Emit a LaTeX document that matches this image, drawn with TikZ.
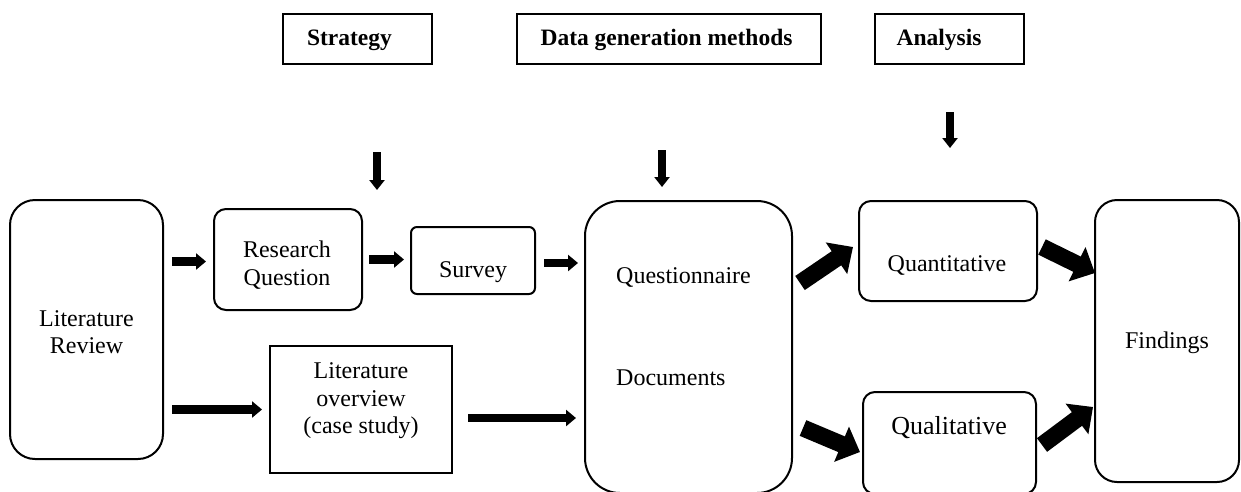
\documentclass[tikz,border=0pt]{standalone}
\usepackage{fontspec}
\setmainfont{Liberation Serif}
\usetikzlibrary{arrows.meta}
\begin{document}
\begin{tikzpicture}[x=1pt,y=-1pt,
  box/.style={draw, line width=2pt, inner sep=0pt},
  txt/.style={font=\fontsize{24}{27.5}\selectfont, align=center, inner sep=0pt},
  headbox/.style={draw, line width=1.3pt, inner sep=0pt, minimum height=50pt},
  headtxt/.style={font=\fontsize{23.5}{26}\selectfont\bfseries, inner sep=0pt},
  smallarr/.style={line width=8.5pt, -{Triangle[length=10pt,width=16pt]}},
  downarr/.style={line width=8pt, -{Triangle[length=10pt,width=15pt]}},
  bigarr/.style={line width=17pt, -{Triangle[length=20pt,width=37pt]}}]
\useasboundingbox (0,0) rectangle (1241,491);

% header boxes
\node[headbox, minimum width=149pt] (strat) at (357.5,39) {};
\node[headtxt] (strattxt) at (349.5,40) {Strategy};
\node[headbox, minimum width=304pt] (dgm) at (669,39) {};
\node[headtxt] (dgmtxt) at (666.5,40) {Data generation methods};
\node[headbox, minimum width=149pt] (ana) at (949.5,39) {};
\node[headtxt] (anatxt) at (939,40) {Analysis};

% main boxes
\node[box, rounded corners=25pt, minimum width=153pt, minimum height=259pt] (lr) at (86.5,329.5) {};
\node[txt] (lrtxt) at (86.5,332) {Literature\\Review};
\node[box, rounded corners=12pt, minimum width=148pt, minimum height=101pt] (rq) at (288,259.5) {};
\node[txt] (rqtxt) at (287,265) {Research\\Question};
\node[box, minimum width=182pt, minimum height=127pt] (lo) at (361,409.5) {};
\node[txt] (lotxt) at (361,401) {Literature\\overview\\(case study)};
\node[box, rounded corners=6pt, minimum width=124pt, minimum height=67pt] (survey) at (473,260.5) {};
\node[txt] (surveytxt) at (473,272) {Survey};
\node[box, rounded corners=35pt, minimum width=207pt, minimum height=292pt] (q) at (688.5,347) {};
\node[txt, anchor=west] (qtxt) at (616,277) {Questionnaire};
\node[txt, anchor=west] (dtxt) at (616,378) {Documents};
\node[box, rounded corners=12pt, minimum width=178pt, minimum height=100pt] (quant) at (948,251) {};
\node[txt] (quanttxt) at (947,265) {Quantitative};
\node[box, rounded corners=12pt, minimum width=173pt, minimum height=102pt] (qual) at (949.5,443) {};
\node[txt, font=\fontsize{26}{28}\selectfont] (qualtxt) at (949,428) {Qualitative};
\node[box, rounded corners=22pt, minimum width=144pt, minimum height=282pt] (find) at (1167,341) {};
\node[txt] (findtxt) at (1167,343) {Findings};

% small horizontal arrows
\draw[smallarr, shorten <=8pt, shorten >=7pt] ([yshift=-2pt]lr.east |- rq.west) -- ([yshift=-2pt]rq.west);
\draw[smallarr, shorten <=8pt, shorten >=7pt] (lr.east |- lo.west) -- (lo.west);
\draw[smallarr, shorten <=6pt, shorten >=6pt] (rq.east) -- (rq.east -| survey.west);
\draw[smallarr, shorten <=8pt, shorten >=6pt] ([yshift=-2.5pt]survey.east) -- ([yshift=-2.5pt]survey.east -| q.west);
\draw[smallarr, shorten <=15pt, shorten >=8pt] ([yshift=-8.5pt]lo.east) -- ([yshift=-8.5pt]lo.east -| q.west);

% downward arrows under the headings
\coordinate (d1s) at (377,152); \coordinate (d1e) at (377,190);
\coordinate (d2s) at (662,150); \coordinate (d2e) at (662,187);
\coordinate (d3s) at (950,112); \coordinate (d3e) at (950,148);
\draw[downarr] (d1s) -- (d1e);
\draw[downarr] (d2s) -- (d2e);
\draw[downarr] (d3s) -- (d3e);

% thick diagonal arrows
\coordinate (b1s) at (800,283); \coordinate (b1e) at (853,247);
\coordinate (b2s) at (1042,247); \coordinate (b2e) at (1095,273);
\coordinate (b3s) at (803,428); \coordinate (b3e) at (860,452);
\coordinate (b4s) at (1042,445); \coordinate (b4e) at (1093,407);
\draw[bigarr] (b1s) -- (b1e);
\draw[bigarr] (b2s) -- (b2e);
\draw[bigarr] (b3s) -- (b3e);
\draw[bigarr] (b4s) -- (b4e);
\end{tikzpicture}
\end{document}
